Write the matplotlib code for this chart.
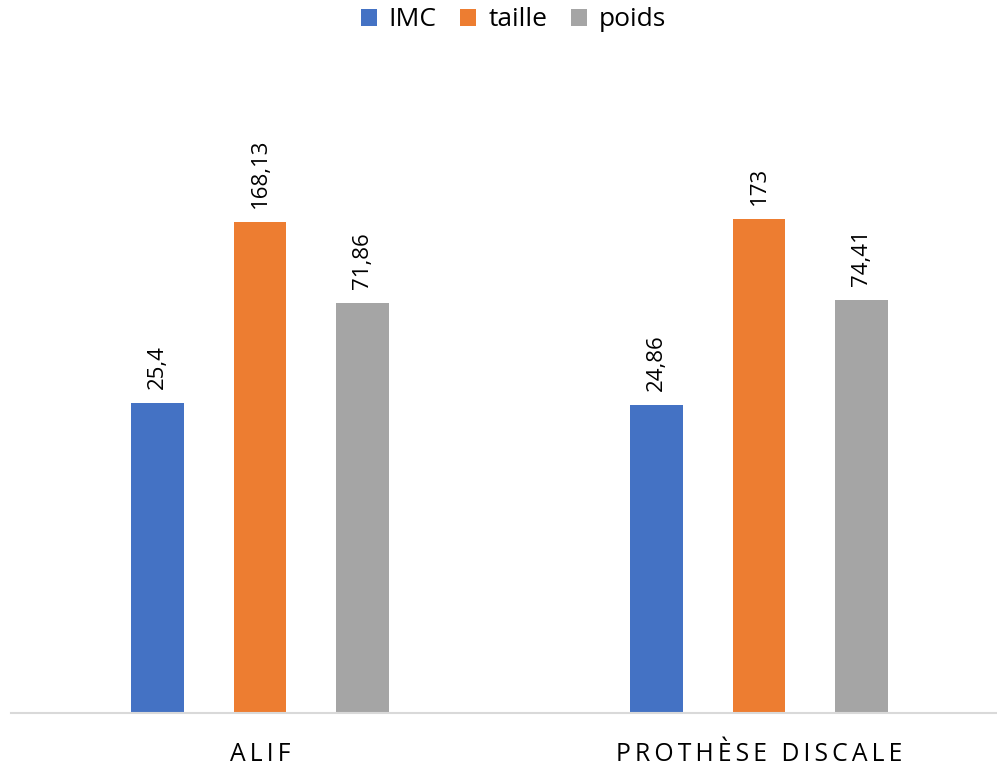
import matplotlib
matplotlib.use("Agg")
import matplotlib.pyplot as plt
import numpy as np

categories = ["ALIF", "PROTHÈSE DISCALE"]
series_names = ["IMC", "taille", "poids"]
imc = [25.4, 24.86]
taille = [168.13, 173]
poids = [71.86, 74.41]
labels_imc = ["25,4", "24,86"]
labels_taille = ["168,13", "173"]
labels_poids = ["71,86", "74,41"]
colors = ["#4472C4", "#ED7D31", "#A5A5A5"]

plt.rcParams['font.family'] = ['Open Sans', 'DejaVu Sans']


def spaced(s):
    return "\u2009".join(s)


fig = plt.figure(figsize=(9.97, 7.69), dpi=100)
ax = fig.add_axes([10.5/997, 56/769, 998/997, 662/769])

x = np.arange(len(categories))
width = 0.106
step = 0.206
data = [imc, taille, poids]
labels = [labels_imc, labels_taille, labels_poids]
for i, (vals, labs, name, c) in enumerate(zip(data, labels, series_names, colors)):
    pos = x + (i - 1) * step
    ax.bar(pos, vals, width=width, color=c, label=name, zorder=2)
    for p, v, l in zip(pos, vals, labs):
        ax.annotate(l, (p, v), xytext=(0, 10), textcoords="offset points",
                    rotation=90, ha="center", va="bottom", fontsize=16)

ax.set_yscale("log")
ax.set_ylim(1, 1000)
ax.set_xlim(-0.5, 1.5)
ax.set_yticks([])
ax.yaxis.set_minor_locator(matplotlib.ticker.NullLocator())
for s in ["top", "right", "left"]:
    ax.spines[s].set_visible(False)
ax.spines["bottom"].set_color("#D9D9D9")
ax.spines["bottom"].set_linewidth(1.5)
ax.set_xticks(x)
ax.set_xticklabels([spaced(c) for c in categories], fontsize=17.8)
ax.tick_params(axis="x", length=0, pad=21)

fig.legend(loc="center", bbox_to_anchor=(0.515, 1 - 20/769), ncol=3, frameon=False,
           fontsize=19, handlelength=0.6, handleheight=0.6, columnspacing=0.9,
           handletextpad=0.45, borderpad=0)

fig.savefig("out.png", dpi=100)
